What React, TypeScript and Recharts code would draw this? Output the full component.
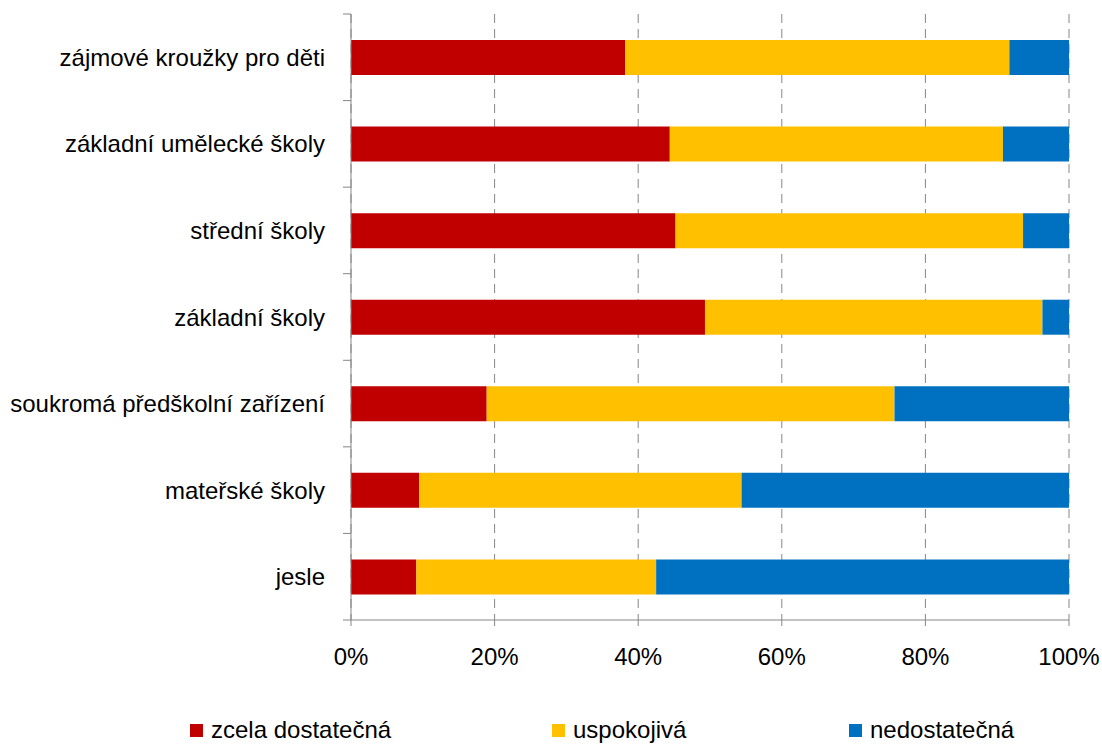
import { BarChart, Bar, XAxis, YAxis, CartesianGrid, Legend } from "recharts";

const categories = [
  "zájmové kroužky pro děti",
  "základní umělecké školy",
  "střední školy",
  "základní školy",
  "soukromá předškolní zařízení",
  "mateřské školy",
  "jesle",
];
const zcela = [38.2, 44.4, 45.2, 49.3, 18.9, 9.5, 9.1];
const uspokojiva = [53.5, 46.4, 48.4, 47.0, 56.8, 44.9, 33.4];
const nedostatecna = [8.3, 9.2, 6.4, 3.7, 24.3, 45.6, 57.5];
const xTicks = [0, 20, 40, 60, 80, 100];

const series = [
  { key: "zcela", name: "zcela dostatečná", color: "#C00000" },
  { key: "uspokojiva", name: "uspokojivá", color: "#FFC000" },
  { key: "nedostatecna", name: "nedostatečná", color: "#0070C0" },
];

const data = categories.map((name, i) => ({
  name,
  zcela: zcela[i],
  uspokojiva: uspokojiva[i],
  nedostatecna: nedostatecna[i],
}));

const FONT = "'Liberation Sans', Arial, sans-serif";
const AXIS = "#868686";
const PLOT_H = 606;
const BAND = PLOT_H / categories.length;

function CategoryTick(props: any) {
  const { x, y, payload, index } = props;
  return (
    <g>
      <text x={x} y={y} dy="0.36em" textAnchor="end" fontSize={24} fill="#000" fontFamily={FONT}>
        {payload.value}
      </text>
      <line x1={x + 18} x2={x + 26} y1={y - BAND / 2} y2={y - BAND / 2} stroke={AXIS} />
      {index === categories.length - 1 && (
        <line x1={x + 18} x2={x + 26} y1={y + BAND / 2} y2={y + BAND / 2} stroke={AXIS} />
      )}
    </g>
  );
}

function LegendContent() {
  const widths = [362, 297, 200];
  return (
    <div style={{ display: "flex", fontFamily: FONT, fontSize: 24, color: "#000" }}>
      {series.map((s, i) => (
        <div key={s.key} style={{ width: widths[i], display: "flex", alignItems: "center" }}>
          <span style={{ width: 13, height: 13, background: s.color, marginRight: 8, display: "inline-block" }} />
          <span>{s.name}</span>
        </div>
      ))}
    </div>
  );
}

export default function App() {
  return (
    <div style={{ position: "absolute", left: 0, top: 0, width: 1102, height: 746 }}>
      <BarChart
        width={1102}
        height={746}
        data={data}
        layout="vertical"
        margin={{ top: 14, right: 33, left: 0, bottom: 0 }}
        barSize={35}
      >
        <CartesianGrid horizontal={false} stroke={AXIS} strokeDasharray="9 6" />
        <XAxis
          type="number"
          domain={[0, 100]}
          ticks={xTicks}
          tickFormatter={(v) => `${v}%`}
          axisLine={{ stroke: AXIS }}
          tickLine={{ stroke: AXIS }}
          tickSize={6}
          tickMargin={22}
          height={96}
          tick={{ fontSize: 24, fill: "#000", fontFamily: FONT }}
        />
        <YAxis
          type="category"
          dataKey="name"
          width={351}
          axisLine={{ stroke: AXIS }}
          tickLine={false}
          tickSize={8}
          tickMargin={18}
          tick={<CategoryTick />}
          interval={0}
        />
        <Legend
          verticalAlign="bottom"
          content={<LegendContent />}
          wrapperStyle={{ left: 190, width: 900, height: 30 }}
        />
        {series.map((s) => (
          <Bar key={s.key} dataKey={s.key} name={s.name} stackId="a" fill={s.color} isAnimationActive={false} />
        ))}
      </BarChart>
    </div>
  );
}
